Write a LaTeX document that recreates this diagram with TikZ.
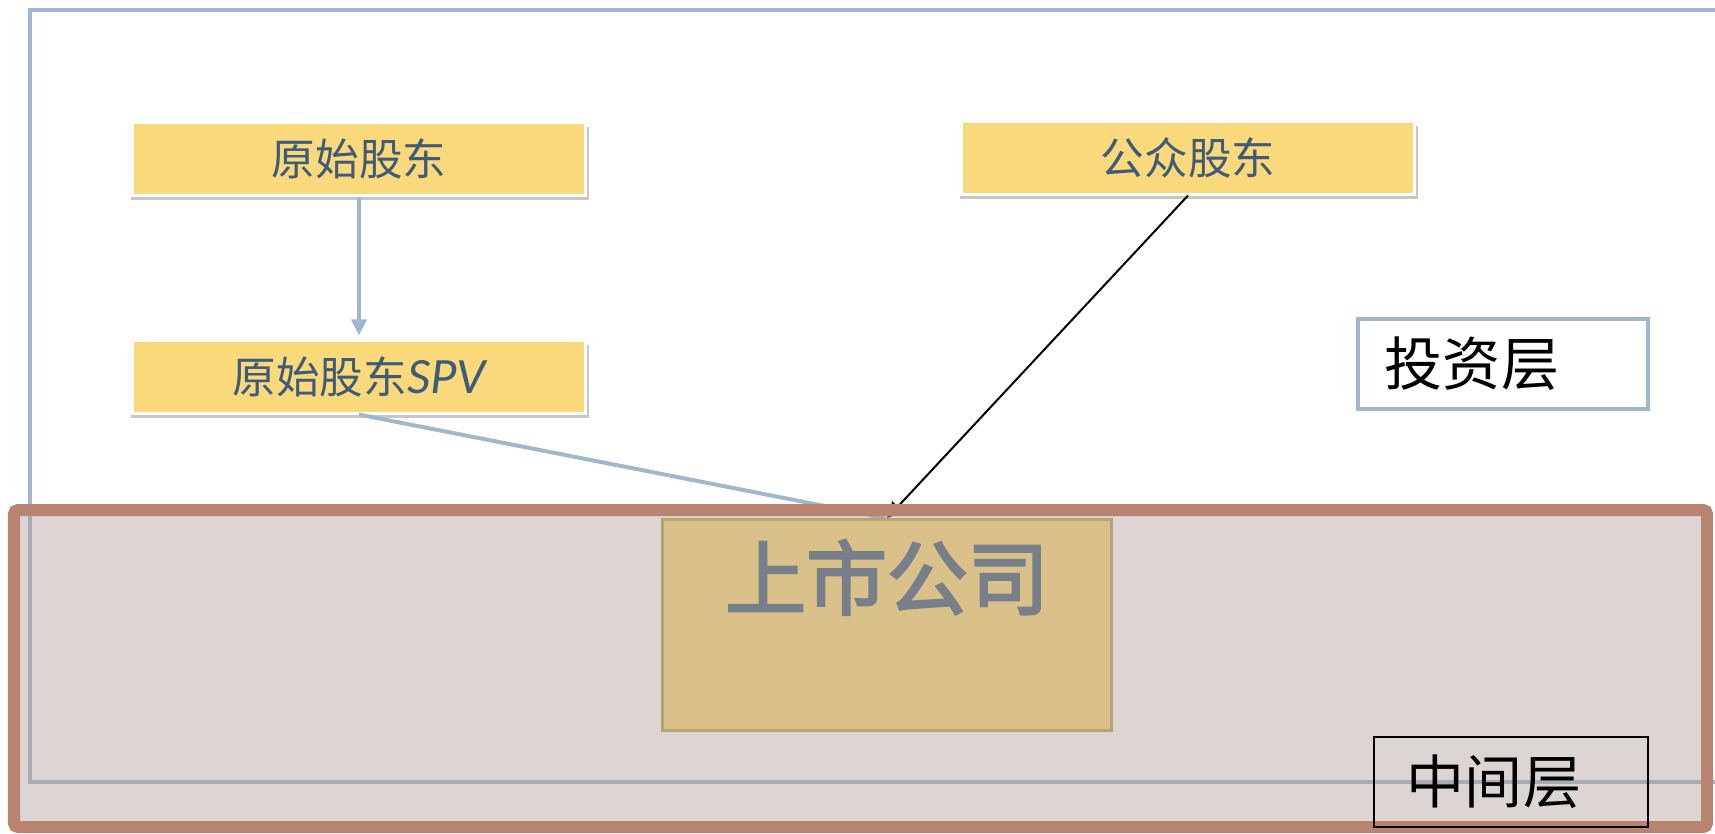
\documentclass[tikz,border=0pt]{standalone}
\usepackage{fontspec}
\usetikzlibrary{arrows.meta,shadows}
\newfontfamily\cjk{Noto Sans CJK SC}
\newfontfamily\cjkheavy[FakeBold=3]{Noto Sans CJK SC}
\newfontfamily\latin{Carlito}
\definecolor{gdyellow}{HTML}{F9D97C}
\definecolor{gdtext}{HTML}{3F5B77}
\definecolor{gdblue}{HTML}{A0B8CF}
\definecolor{gdbrown}{HTML}{B8836F}
\definecolor{gdband}{HTML}{AF9A95}
\definecolor{gdcompany}{HTML}{DAC18A}
\definecolor{gdcompanyline}{HTML}{B7A272}
\definecolor{gdgray}{HTML}{777F8B}
\pgfdeclarelayer{band}
\pgfdeclarelayer{front}
\pgfsetlayers{main,band,front}
\tikzset{
  holder/.style={draw=white, line width=0.03cm, fill=gdyellow, minimum width=4.52cm, minimum height=0.72cm,
    text=gdtext, font=\cjk\fontsize{12.4}{15}\selectfont,
    drop shadow={shadow xshift=0.01cm, shadow yshift=-0.045cm, shadow scale=1.012, opacity=0.4, fill=black!55}},
  layertag/.style={align=left, minimum height=0.9cm, font=\cjk\fontsize{16.5}{20}\selectfont},
  flow/.style={-{Triangle[length=0.16cm,width=0.15cm]}}
}
\begin{document}
\begin{tikzpicture}[x=0.01cm, y=-0.01cm]
\useasboundingbox (0,0) rectangle (1715,833);
% investment layer frame
\draw [gdblue, line width=0.04cm] (30,10) rectangle (1760,782);
\node [holder] (ys) at (359,159) {原始股东};
\node [holder] (spv) at (359,377) {原始股东{\latin\itshape\fontsize{14.5}{15}\selectfont SPV}};
\node [holder] (gz) at (1188,158) {公众股东};
% middle layer band
\begin{pgfonlayer}{band}
\draw [gdbrown, line width=0.12cm, rounded corners=0.04cm, fill=gdband, fill opacity=0.42] (14,510) rectangle (1707,827);
\end{pgfonlayer}
\begin{pgfonlayer}{front}
\node [draw=gdcompanyline, line width=0.025cm, fill=gdcompany, minimum width=4.49cm, minimum height=2.11cm,
  label={[anchor=north, inner sep=0pt, yshift=-0.21cm, text=gdgray, font=\cjkheavy\fontsize{23}{27}\selectfont]north:上市公司}]
  (ssgs) at (887,625) {};
\node [layertag, draw=gdblue, line width=0.035cm, fill=white, text width=2.36cm, inner xsep=0.27cm] (tzc) at (1503,364) {投资层};
\node [layertag, draw=black, line width=0.015cm, text width=2.08cm, inner xsep=0.33cm] (zjc) at (1511,782) {中间层};
\end{pgfonlayer}
\draw [gdblue, line width=0.04cm, flow, shorten >=0.04cm] (ys) -- (spv);
\draw [gdblue, line width=0.04cm, flow] (spv.south) -- (ssgs.north);
\draw [black, line width=0.02cm, flow] (gz.south) -- (ssgs.north);
\end{tikzpicture}
\end{document}
